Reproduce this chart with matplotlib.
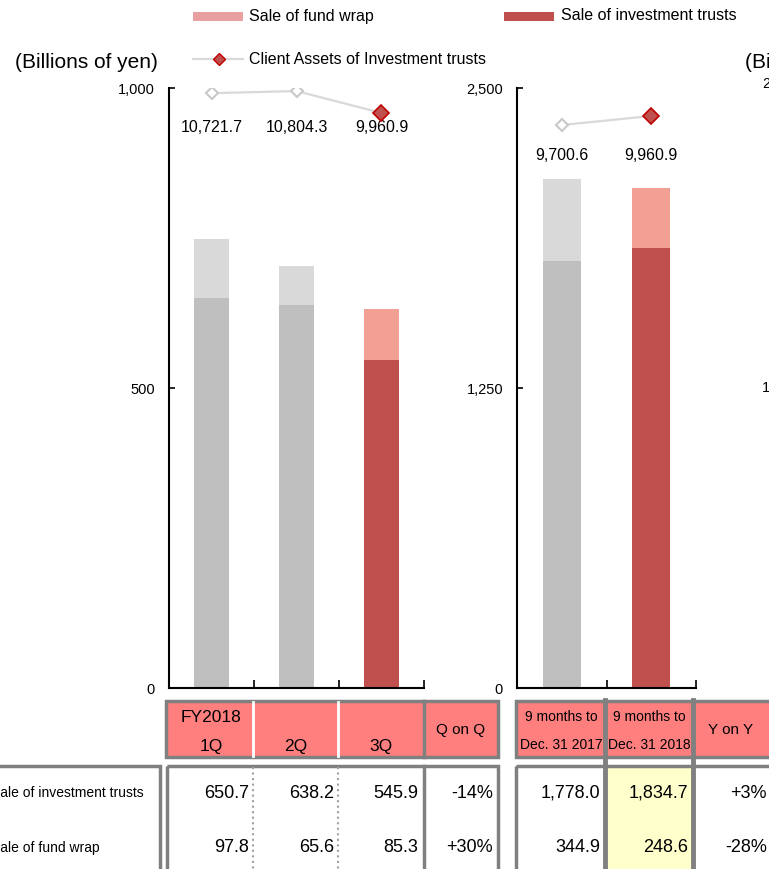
import matplotlib.pyplot as plt
from matplotlib.patches import Rectangle
from matplotlib.ticker import FuncFormatter

# figure size in pixels
W, H = 769, 869

plt.rcParams['font.family'] = ['Liberation Sans', 'DejaVu Sans']

# quarterly data (FY2018)
quarters = ['1Q', '2Q', '3Q']
trusts_q = [650.7, 638.2, 545.9]
wrap_q = [97.8, 65.6, 85.3]
assets_q = [10721.7, 10804.3, 9960.9]
qoq = ['-14%', '+30%']

# nine-month data
periods = ['Dec. 31 2017', 'Dec. 31 2018']
trusts_9m = [1778.0, 1834.7]
wrap_9m = [344.9, 248.6]
assets_9m = [9700.6, 9960.9]
yoy = ['+3%', '-28%']

row_labels = ['Sale of investment trusts', 'Sale of fund wrap']

GRAY_DARK = '#BFBFBF'
GRAY_LIGHT = '#D9D9D9'
RED = '#C0504D'
SALMON = '#F2A093'
PINK = '#FF7F7F'
BORDER = '#808080'


def px_axes(x0, y0, x1, y1, **kw):
    return fig.add_axes([x0 / W, 1 - y1 / H, (x1 - x0) / W, (y1 - y0) / H], **kw)


def fmt(v):
    return f'{v:,.1f}'


fig = plt.figure(figsize=(W / 100, H / 100), dpi=100)

# overlay for legend / table, pixel coords
ov = px_axes(0, 0, W, H)
ov.set_xlim(0, W)
ov.set_ylim(H, 0)
ov.axis('off')


def bar_chart(ax, trusts, wrap, assets, ymax, yticks, ticks_x, a_lim, lab_y):
    n = len(trusts)
    x = list(range(n))
    bottoms = [GRAY_DARK] * (n - 1) + [RED]
    tops = [GRAY_LIGHT] * (n - 1) + [SALMON]
    ax.bar(x, trusts, 0.42, color=bottoms, zorder=2)
    ax.bar(x, wrap, 0.42, bottom=trusts, color=tops, zorder=2)
    ax.set_xlim(-0.5, n - 0.5)
    ax.set_ylim(0, ymax)
    ax.set_yticks(yticks)
    ax.yaxis.set_major_formatter(FuncFormatter(lambda v, p: f'{v:,.0f}'))
    ax.set_xticks(ticks_x)
    ax.set_xticklabels([])
    ax.tick_params(axis='y', direction='in', length=4, width=1.2, pad=10, labelsize=10.5)
    ax.tick_params(axis='x', direction='in', length=6, width=1.2)
    for s in ['top', 'right']:
        ax.spines[s].set_visible(False)
    for s in ['left', 'bottom']:
        ax.spines[s].set_linewidth(1.5)
    # label of client assets
    for i, v in enumerate(assets):
        ax.text(i, lab_y, fmt(v), ha='center', va='center', fontsize=11.5)
    tw = ax.twinx()
    tw.plot(x, assets, color=GRAY_LIGHT, lw=1.6, zorder=3)
    tw.plot(x[:-1], assets[:-1], ls='none', marker='D', ms=6.5, mfc='white',
            mec='#C8C8C8', mew=1.5, zorder=4)
    tw.plot(x[-1:], assets[-1:], ls='none', marker='D', ms=8, mfc=RED,
            mec='#C00000', mew=1.2, zorder=4)
    tw.set_ylim(*a_lim)
    tw.axis('off')


ax1 = px_axes(169, 88, 424, 688)
bar_chart(ax1, trusts_q, wrap_q, assets_q, 1000, [0, 500, 1000],
          [0.5, 1.5, 2.5], (-12155, 10922), 935)

ax2 = px_axes(517, 88, 696, 688)
bar_chart(ax2, trusts_9m, wrap_9m, assets_9m, 2500, [0, 1250, 2500],
          [0.5, 1.5], (-6571, 10770), 2217)

# legend
ov.add_patch(Rectangle((193, 12), 50, 9, fc='#E8A0A0', ec='none'))
ov.text(249, 16, 'Sale of fund wrap', fontsize=11.5, va='center')
ov.add_patch(Rectangle((504, 12), 50, 9, fc=RED, ec='none'))
ov.text(561, 16, 'Sale of investment trusts', fontsize=11.5, va='center')
ov.plot([193, 243], [59, 59], color=GRAY_LIGHT, lw=1.6)
ov.plot([219], [59], marker='D', ms=6.5, mfc=RED, mec='#C00000', mew=1)
ov.text(249, 59, 'Client Assets of Investment trusts', fontsize=11.5, va='center')

ov.text(15, 62, '(Billions of yen)', fontsize=15, va='center')
ov.text(745, 62, '(Billions of yen)', fontsize=15, va='center')
ov.text(762, 84, '2,500', fontsize=10.5, va='center')
ov.text(762, 388, '1,250', fontsize=10.5, va='center')

# table header
ov.add_patch(Rectangle((166, 701), 332, 56, fc=PINK, ec=BORDER, lw=2.5))
ov.plot([253, 253], [702, 756], color='white', lw=2)
ov.plot([338, 338], [702, 756], color='white', lw=2)
ov.plot([424, 424], [701, 757], color=BORDER, lw=2.5)
ov.text(211, 717, 'FY2018', ha='center', va='center', fontsize=12.5)
for i, q in enumerate(quarters):
    ov.text([211, 296, 381][i], 746, q, ha='center', va='center', fontsize=12.5)
ov.text(461, 730, 'Q on Q', ha='center', va='center', fontsize=11)

ov.add_patch(Rectangle((516, 701), 260, 56, fc=PINK, ec=BORDER, lw=2.5))
for i, p in enumerate(periods):
    cx = [561, 649][i]
    ov.text(cx, 717, '9 months to', ha='center', va='center', fontsize=10)
    ov.text(cx, 745, p, ha='center', va='center', fontsize=10)
ov.text(731, 730, 'Y on Y', ha='center', va='center', fontsize=11)

# table body
ov.add_patch(Rectangle((-5, 766), 165, 120, fc='none', ec=BORDER, lw=2.5))
ov.add_patch(Rectangle((167, 766), 331, 120, fc='none', ec=BORDER, lw=2.5))
ov.plot([253, 253], [767, 869], color='#A0A0A0', lw=1.5, ls=':')
ov.plot([338, 338], [767, 869], color='#A0A0A0', lw=1.5, ls=':')
ov.plot([424, 424], [766, 869], color=BORDER, lw=2.5)
ov.add_patch(Rectangle((605, 766), 88, 110, fc='#FFFFCC', ec='none'))
ov.add_patch(Rectangle((516, 766), 260, 120, fc='none', ec=BORDER, lw=2.5))
for xx in [605, 693]:
    ov.plot([xx, xx], [700, 869], color=BORDER, lw=3.5)

rows_y = [793, 848]
for r, y in enumerate(rows_y):
    ov.text(-9, y, row_labels[r], va='center', fontsize=10)
    vals = [trusts_q, wrap_q][r]
    for i, v in enumerate(vals):
        ov.text([249, 334, 418][i], y, fmt(v), ha='right', va='center', fontsize=13)
    ov.text(493, y, qoq[r], ha='right', va='center', fontsize=13)
    vals9 = [trusts_9m, wrap_9m][r]
    for i, v in enumerate(vals9):
        ov.text([600, 688][i], y, fmt(v), ha='right', va='center', fontsize=13)
    ov.text(767, y, yoy[r], ha='right', va='center', fontsize=13)

fig.savefig('out.png', dpi=100)
